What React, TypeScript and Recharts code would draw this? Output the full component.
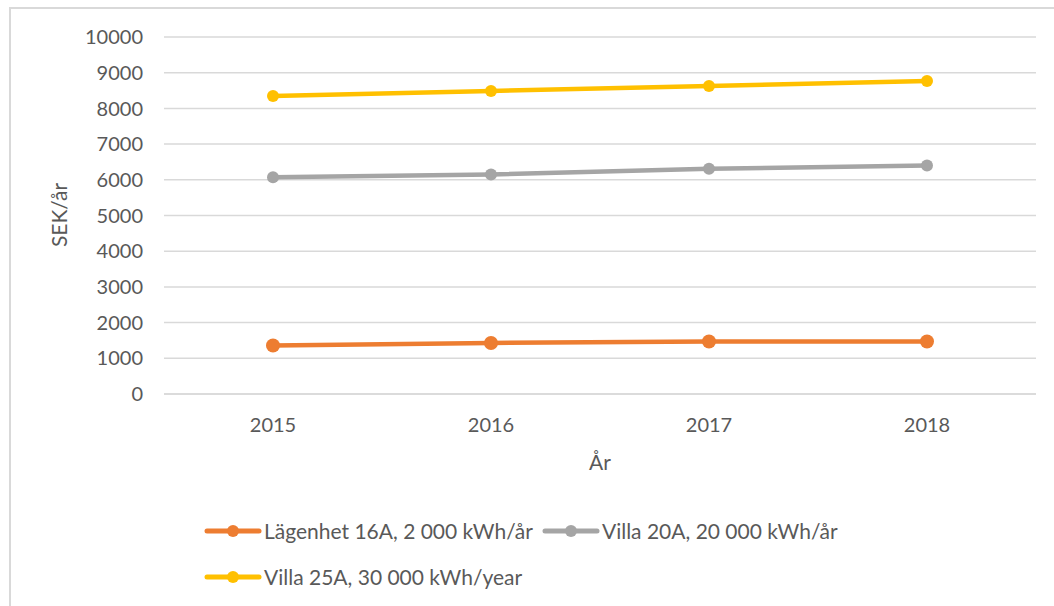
import { LineChart, Line, XAxis, YAxis, CartesianGrid } from 'recharts'

const years = ['2015', '2016', '2017', '2018']
const lagenhet = [1360, 1430, 1470, 1470]
const villa20 = [6070, 6150, 6310, 6400]
const villa25 = [8350, 8490, 8630, 8770]
const yTicks = [0, 1000, 2000, 3000, 4000, 5000, 6000, 7000, 8000, 9000, 10000]

const series = [
  { key: 'lagenhet', name: 'Lägenhet 16A, 2 000 kWh/år', color: '#ED7D31', r: 7 },
  { key: 'villa20', name: 'Villa 20A, 20 000 kWh/år', color: '#A5A5A5', r: 6 },
  { key: 'villa25', name: 'Villa 25A, 30 000 kWh/year', color: '#FFC000', r: 6 },
]

const FONT = 'Lato, "Open Sans", sans-serif'
const TEXT = '#595959'

const chartData = years.map((year, i) => ({
  year,
  lagenhet: lagenhet[i],
  villa20: villa20[i],
  villa25: villa25[i],
}))

function LegendItem({ name, color }: { name: string; color: string }) {
  return (
    <div style={{ display: 'flex', alignItems: 'center', marginRight: 9 }}>
      <svg width={58} height={16} style={{ marginRight: 2 }}>
        <line x1={3} y1={8} x2={55} y2={8} stroke={color} strokeWidth={5} strokeLinecap="round" />
        <circle cx={29} cy={8} r={6} fill={color} />
      </svg>
      <span>{name}</span>
    </div>
  )
}

export default function App() {
  return (
    <div
      style={{
        position: 'absolute',
        left: 0,
        top: 0,
        width: 1054,
        height: 606,
        background: '#fff',
        overflow: 'hidden',
        fontFamily: FONT,
      }}
    >
      {/* chart frame */}
      <div
        style={{
          position: 'absolute',
          left: 9,
          top: 7,
          width: 1100,
          height: 700,
          borderLeft: '2px solid #d9d9d9',
          borderTop: '2px solid #d9d9d9',
        }}
      />
      <div style={{ position: 'absolute', left: 0, top: 0 }}>
        <LineChart width={1054} height={606} data={chartData} margin={{ top: 37, right: 18, left: 0, bottom: 0 }}>
          <CartesianGrid vertical={false} stroke="#d9d9d9" strokeWidth={1.5} />
          <XAxis
            dataKey="year"
            height={212}
            padding={{ left: 109, right: 109 }}
            stroke="#d9d9d9"
            strokeWidth={1.5}
            tickLine={false}
            tickSize={0}
            tickMargin={24}
            tick={{ fill: TEXT, fontSize: 20, fontFamily: FONT }}
            label={(props: any) => {
              const vb = props.viewBox
              return (
                <text x={vb.x + vb.width / 2} y={470} textAnchor="middle" fill={TEXT} fontSize={21} fontFamily={FONT}>
                  År
                </text>
              )
            }}
          />
          <YAxis
            width={164}
            domain={[0, 10000]}
            ticks={yTicks}
            axisLine={false}
            tickLine={false}
            tickSize={0}
            tickMargin={21}
            tick={{ fill: TEXT, fontSize: 20, fontFamily: FONT }}
            label={() => (
              <text
                x={67}
                y={215}
                transform="rotate(-90 67 215)"
                textAnchor="middle"
                fill={TEXT}
                fontSize={21}
                fontFamily={FONT}
              >
                SEK/år
              </text>
            )}
          />
          {series.map((s) => (
            <Line
              key={s.key}
              type="linear"
              dataKey={s.key}
              name={s.name}
              stroke={s.color}
              strokeWidth={4.5}
              dot={{ r: s.r, fill: s.color, stroke: s.color, strokeWidth: 0 }}
              activeDot={false}
              isAnimationActive={false}
            />
          ))}
        </LineChart>
      </div>
      {/* legend */}
      <div
        style={{
          position: 'absolute',
          left: 204,
          top: 517,
          color: TEXT,
          fontSize: 21,
          lineHeight: '28px',
        }}
      >
        <div style={{ display: 'flex' }}>
          <LegendItem name={series[0].name} color={series[0].color} />
          <LegendItem name={series[1].name} color={series[1].color} />
        </div>
        <div style={{ display: 'flex', marginTop: 18 }}>
          <LegendItem name={series[2].name} color={series[2].color} />
        </div>
      </div>
    </div>
  )
}
